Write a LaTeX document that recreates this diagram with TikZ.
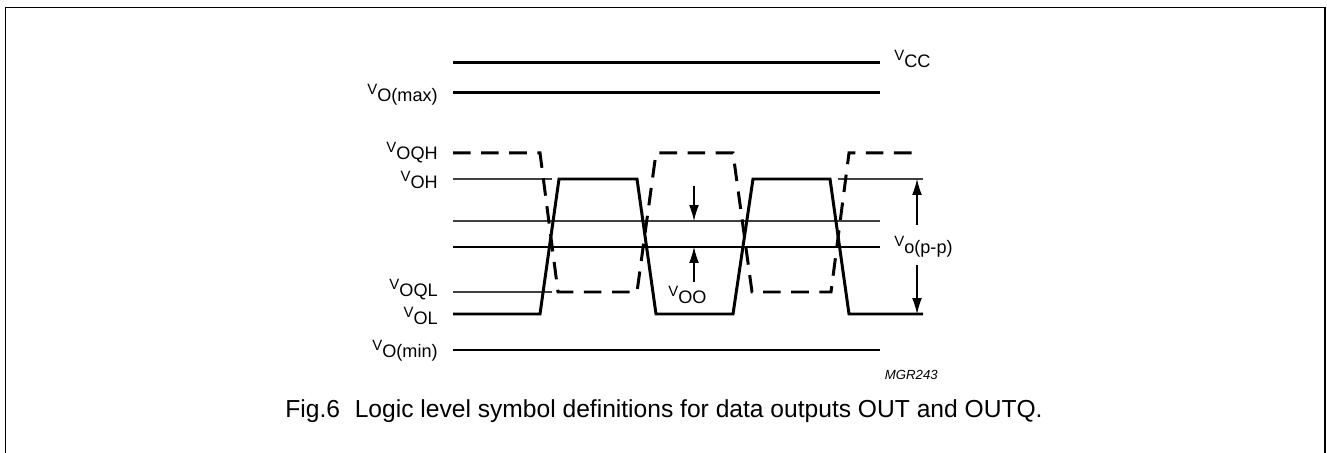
\documentclass[tikz,border=0pt]{standalone}
\usepackage{fontspec}
\setmainfont{Liberation Sans}
\usetikzlibrary{arrows.meta}

% V with its subscript, as the datasheet sets it
\newcommand{\volt}[1]{\raisebox{4pt}{\fontsize{8.5}{9}\selectfont V}#1}

\begin{document}
\begin{tikzpicture}[x=0.2mm,y=-0.2mm,
level/.style={line width=1.7pt},
thinlevel/.style={line width=0.6pt,black!75},
wave/.style={line width=1.7pt,line join=miter},
qwave/.style={line width=1.7pt,dash pattern=on 10pt off 6pt},
meas/.style={line width=0.6pt,-{Latex[length=9pt,width=5.5pt]}},
lbl/.style={inner sep=0pt,font=\fontsize{10.3}{12}\selectfont}]
\useasboundingbox (0,0) rectangle (1327,453);
\draw[line width=1.1pt] (5.5,460) -- (5.5,7.5) -- (1325,7.5) -- (1325,460);

% supply and limit levels
\draw[level] (453,63) -- (880,63);
\draw[level] (453,93) -- (880,93);
\draw[level] (453,350) -- (880,350);
\draw[level] (453,247) -- (880,247);
\draw[thinlevel] (453,221) -- (880,221);
\draw[thinlevel] (453,179) -- (552,179);
\draw[thinlevel] (453,292) -- (552,292);
\draw[thinlevel] (838,179) -- (923,179);

% OUT and OUTQ
\draw[wave] (453,314) -- (540,314) -- (559,179) -- (637,179) -- (656,314)
  -- (733,314) -- (753,179) -- (830,179) -- (849,314) -- (923,314);
\draw[qwave] (453,153) -- (540,153) -- (558,292) -- (637,292) -- (656,153)
  -- (733,153) -- (752,292) -- (831,292) -- (849,153) -- (920,153);

% measuring arrows
\coordinate (ooa) at (694,186);
\coordinate (oob) at (694,221);
\coordinate (ooc) at (694,282);
\coordinate (ood) at (694,247);
\coordinate (ppa) at (917,225);
\coordinate (ppb) at (917,179);
\coordinate (ppc) at (917,265);
\coordinate (ppd) at (917,314);
\draw[meas] (ooa) -- (oob);
\draw[meas] (ooc) -- (ood);
\draw[meas] (ppa) -- (ppb);
\draw[meas] (ppc) -- (ppd);

% labels
\node (vcc) [lbl,anchor=base west] at (894,68) {\volt{CC}};
\node (vomax) [lbl,anchor=base east] at (438,102) {\volt{O(max)}};
\node (voqh) [lbl,anchor=base east] at (438,160) {\volt{OQH}};
\node (voh) [lbl,anchor=base east] at (438,189) {\volt{OH}};
\node (voql) [lbl,anchor=base east] at (438,297) {\volt{OQL}};
\node (vol) [lbl,anchor=base east] at (438,325) {\volt{OL}};
\node (vomin) [lbl,anchor=base east] at (438,358) {\volt{O(min)}};
\node (voo) [lbl,anchor=base west] at (668,304) {\volt{OO}};
\node (vopp) [lbl,anchor=base west] at (894,254) {\volt{o(p-p)}};
\node (code) [inner sep=0pt,anchor=base east,font=\fontsize{7.5}{9}\selectfont\itshape] at (938,380) {MGR243};
\node (caption) [inner sep=0pt,anchor=base,font=\fontsize{14}{16}\selectfont] at (664,418)
  {Fig.6\hspace{0.6em}Logic level symbol definitions for data outputs OUT and OUTQ.};
\end{tikzpicture}
\end{document}
